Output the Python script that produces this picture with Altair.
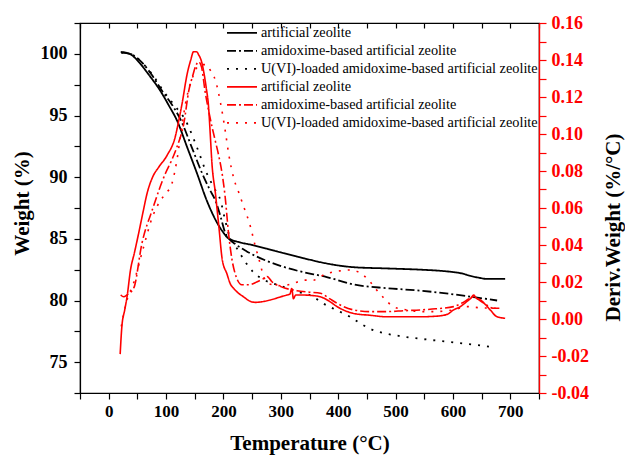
import altair as alt
import pandas as pd

names = ["artificial zeolite", "amidoxime-based artificial zeolite",
         "U(VI)-loaded amidoxime-based artificial zeolite"]
keys = ["tga1", "tga2", "tga3", "dtg1", "dtg2", "dtg3"]
labels = names + names

# ---- Weight (%) curves (left axis) ----
T_s = [21, 30, 40, 55, 70, 90, 105, 119, 137, 154, 171, 189, 200, 206, 215, 230, 250, 276, 300, 334, 360, 386, 427, 485, 543, 580, 601, 615, 630, 645, 659, 675, 691]
W_s = [100.15, 100.1, 99.9, 99.2, 98.3, 97.0, 95.8, 94.6, 92.4, 90.3, 88.1, 86.3, 85.5, 85.15, 84.9, 84.7, 84.5, 84.2, 83.9, 83.5, 83.2, 82.95, 82.7, 82.6, 82.5, 82.4, 82.3, 82.2, 82.0, 81.85, 81.75, 81.75, 81.75]

T_d = [22, 40, 60, 75, 93, 110, 126, 145, 163, 176, 186, 195, 203, 210, 220, 240, 276, 330, 380, 427, 485, 543, 601, 640, 677]
W_d = [100.1, 99.95, 99.2, 98.3, 97.0, 95.9, 94.6, 92.4, 90.3, 89.0, 88.1, 86.8, 85.5, 85.0, 84.6, 84.0, 83.2, 82.4, 81.9, 81.3, 81.0, 80.8, 80.5, 80.25, 80.0]

T_o = [22, 40, 60, 78, 95, 115, 134, 154, 171, 184, 195, 203, 210, 220, 229, 240, 252, 270, 299, 330, 357, 369, 398, 420, 440, 456, 485, 510, 543, 601, 640, 674]
W_o = [100.1, 99.95, 99.2, 98.2, 97.0, 95.8, 94.6, 92.4, 90.3, 89.1, 88.1, 86.5, 85.3, 84.5, 83.8, 83.0, 82.3, 81.7, 81.2, 80.7, 80.3, 79.9, 79.2, 78.7, 78.1, 77.7, 77.3, 77.1, 76.9, 76.6, 76.4, 76.2]

# ---- Deriv. Weight (%/°C) curves (right axis) ----
T_rs = [20, 23, 28, 32, 38, 45, 52, 60, 67, 77, 87, 102, 116, 122, 128, 137, 143, 148, 153, 157, 162, 166, 170, 174, 177, 180, 186, 192, 198, 206, 212, 218, 226, 235, 245, 256, 270, 282, 300, 311, 316, 319, 322, 326, 334, 350, 369, 385, 398, 412, 427, 456, 485, 515, 543, 570, 590, 601, 612, 624, 632, 636, 640, 648, 656, 665, 677, 691]
D_rs = [-0.019, -0.004, 0.005, 0.012, 0.0265, 0.036, 0.046, 0.058, 0.068, 0.077, 0.082, 0.0886, 0.0985, 0.107, 0.1166, 0.1328, 0.140, 0.1445, 0.1445, 0.1427, 0.139, 0.133, 0.125, 0.115, 0.100, 0.084, 0.068, 0.050, 0.032, 0.0245, 0.019, 0.0165, 0.014, 0.012, 0.0098, 0.009, 0.0095, 0.0103, 0.012, 0.013, 0.0135, 0.0165, 0.011, 0.013, 0.013, 0.0128, 0.012, 0.0095, 0.0067, 0.0045, 0.003, 0.002, 0.0012, 0.0012, 0.0012, 0.0015, 0.0025, 0.0049, 0.0065, 0.0094, 0.0115, 0.013, 0.0115, 0.0103, 0.008, 0.0049, 0.0012, 0.0004]

T_rd = [21, 26, 32, 44, 58, 76, 99, 110, 119, 131, 140, 146, 152, 157, 162, 168, 174, 180, 186, 192, 198, 203, 209, 215, 222, 232, 245, 258, 268, 276, 285, 300, 328, 350, 369, 385, 398, 427, 456, 485, 515, 543, 570, 601, 615, 630, 636, 642, 654, 671, 683]
D_rd = [0.013, 0.012, 0.013, 0.017, 0.041, 0.059, 0.0788, 0.086, 0.093, 0.1058, 0.124, 0.131, 0.137, 0.139, 0.136, 0.123, 0.113, 0.104, 0.096, 0.088, 0.078, 0.066, 0.046, 0.032, 0.023, 0.0185, 0.0185, 0.020, 0.0215, 0.023, 0.020, 0.0175, 0.0153, 0.0145, 0.0139, 0.011, 0.0085, 0.0049, 0.004, 0.004, 0.0045, 0.0049, 0.0055, 0.0067, 0.0085, 0.0112, 0.012, 0.011, 0.0085, 0.0058, 0.0058]

T_ro = [22, 30, 44, 60, 76, 90, 100, 110, 119, 127, 134, 142, 148, 154, 162, 170, 178, 186, 195, 203, 209, 218, 226, 235, 247, 255, 264, 270, 280, 300, 320, 340, 357, 369, 386, 403, 421, 438, 456, 467, 482, 496, 520, 543, 566, 601, 624, 650, 683]
D_ro = [-0.004, 0.008, 0.020, 0.038, 0.055, 0.064, 0.068, 0.073, 0.086, 0.103, 0.1166, 0.127, 0.132, 0.136, 0.1375, 0.1375, 0.134, 0.129, 0.1166, 0.102, 0.0895, 0.076, 0.069, 0.061, 0.050, 0.040, 0.030, 0.023, 0.019, 0.018, 0.019, 0.021, 0.021, 0.023, 0.025, 0.026, 0.0265, 0.025, 0.020, 0.0157, 0.0106, 0.0067, 0.0049, 0.004, 0.004, 0.0049, 0.0067, 0.006, 0.0058]

# ---- build tables ----
tga_rows = []
for k, Ts, Ws in zip(keys[:3], [T_s, T_d, T_o], [W_s, W_d, W_o]):
    for t, w in zip(Ts, Ws):
        tga_rows.append({"key": k, "T": t, "W": w})
dtg_rows = []
for k, Ts, Ds in zip(keys[3:], [T_rs, T_rd, T_ro], [D_rs, D_rd, D_ro]):
    for t, d in zip(Ts, Ds):
        dtg_rows.append({"key": k, "T": t, "D": d})
tga = pd.DataFrame(tga_rows)
dtg = pd.DataFrame(dtg_rows)

# ---- styles ----
FONT = "Liberation Serif"
colors = ["black", "black", "black", "red", "red", "red"]
dashes = [[1, 0], [9, 3, 2, 3], [2, 7], [1, 0], [9, 3, 2, 3], [2, 7]]

label_expr = "[" + ",".join("'" + l + "'" for l in labels) + "][indexof([" + \
    ",".join("'" + k + "'" for k in keys) + "], datum.value)]"

legend = alt.Legend(orient="none", legendX=146, legendY=1, title=None,
                    symbolType="stroke", symbolSize=900, symbolStrokeWidth=1.8,
                    labelFont=FONT, labelFontSize=14.3, labelColor="black",
                    labelLimit=400, labelOffset=3, rowPadding=0, clipHeight=17.7,
                    padding=0, labelExpr=label_expr)

color_scale = alt.Scale(domain=keys, range=colors)
dash_scale = alt.Scale(domain=keys, range=dashes)
x_scale = alt.Scale(domain=[-50, 750], nice=False, zero=False)
x_ticks = list(range(-50, 751, 50))

x_bottom = alt.X("T:Q", scale=x_scale,
                 axis=alt.Axis(values=x_ticks, orient="bottom",
                               labelExpr="datum.value % 100 == 0 ? datum.label : ''",
                               grid=False, tickSize=6, labelPadding=4, tickColor="black",
                               domainColor="black", domainWidth=1.2, tickWidth=1.2,
                               labelFont=FONT, labelFontSize=17, labelFontWeight="bold",
                               labelColor="black", titleFont=FONT, titleFontSize=21,
                               titleFontWeight="bold", titleColor="black",
                               titleX=229.5, titleY=50, titleBaseline="middle"),
                 title="Temperature (°C)")

x_top = alt.X("T:Q", scale=x_scale,
              axis=alt.Axis(values=x_ticks, orient="top", labels=False, domain=False,
                            grid=False, tickSize=5, offset=-5, tickColor="black",
                            tickWidth=1.2, title=None))

left = alt.Chart(tga).mark_line(strokeWidth=1.8, interpolate="monotone").encode(
    x=x_bottom,
    y=alt.Y("W:Q", scale=alt.Scale(domain=[72.5, 102.5], nice=False, zero=False),
            axis=alt.Axis(values=[72.5 + 2.5 * i for i in range(13)],
                          labelExpr="datum.value % 5 == 0 ? datum.label : ''",
                          grid=False, tickSize=6, labelPadding=7, orient="left",
                          domainColor="black", tickColor="black", domainWidth=1.2,
                          tickWidth=1.2, labelFont=FONT, labelFontSize=18,
                          labelFontWeight="bold", labelColor="black",
                          titleFont=FONT, titleFontSize=21, titleFontWeight="bold",
                          titleColor="black", titleAngle=270, titleX=-58, titleY=180,
                          titleAlign="center", titleBaseline="middle"),
            title="Weight (%)"),
    color=alt.Color("key:N", scale=color_scale, legend=legend),
    strokeDash=alt.StrokeDash("key:N", scale=dash_scale, legend=legend),
)

right = alt.Chart(dtg).mark_line(strokeWidth=1.6, interpolate="monotone").encode(
    x=x_top,
    y=alt.Y("D:Q", scale=alt.Scale(domain=[-0.04, 0.16], nice=False, zero=False),
            axis=alt.Axis(values=[round(-0.04 + 0.01 * i, 2) for i in range(21)],
                          labelExpr="round(datum.value * 100) % 2 == 0 ? (datum.value < 0 ? '-' + format(abs(datum.value), '.2f') : format(datum.value, '.2f')) : ''",
                          grid=False, tickSize=7, labelPadding=5, orient="right",
                          domainColor="red", tickColor="red", domainWidth=1.4,
                          tickWidth=1.2, labelFont=FONT, labelFontSize=18,
                          labelFontWeight="bold", labelColor="red",
                          titleFont=FONT, titleFontSize=21, titleFontWeight="bold",
                          titleColor="black", titleAngle=270, titleX=74, titleY=204,
                          titleAlign="center", titleBaseline="middle"),
            title="Deriv.Weight (%/°C)"),
    color=alt.Color("key:N", scale=color_scale, legend=legend),
    strokeDash=alt.StrokeDash("key:N", scale=dash_scale, legend=legend),
)

chart = alt.layer(left, right).resolve_scale(y="independent").resolve_axis(
    x="independent").properties(
    width=459, height=370,
    autosize=alt.AutoSizeParams(type="none"),
    padding={"left": 80, "top": 23, "right": 86, "bottom": 62},
    background="white",
).configure_view(stroke="black", strokeWidth=1.2)

chart.save("out.html", embed_options={"renderer": "svg", "actions": False})
